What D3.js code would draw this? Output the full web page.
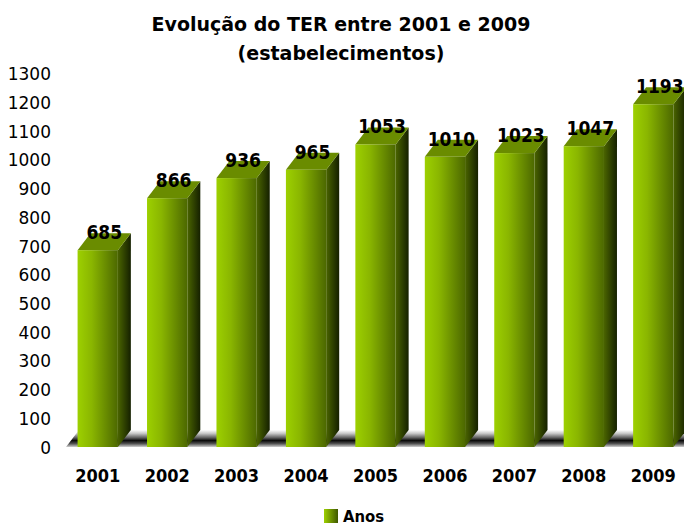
<!DOCTYPE html>
<html>
<head>
<meta charset="utf-8">
<script src="https://cdn.jsdelivr.net/npm/d3@7"></script>
<style>
  body { margin: 0; background: #fff; }
  svg { display: block; font-family: 'DejaVu Sans Condensed', 'DejaVu Sans', sans-serif; }
</style>
</head>
<body>
<div id="chart"></div>
<script>
const years = ['2001', '2002', '2003', '2004', '2005', '2006', '2007', '2008', '2009'];
const values = [685, 866, 936, 965, 1053, 1010, 1023, 1047, 1193];
const yTicks = [0, 100, 200, 300, 400, 500, 600, 700, 800, 900, 1000, 1100, 1200, 1300];
const titleLines = ['Evolução do TER entre 2001 e 2009', '(estabelecimentos)'];
const legendLabel = 'Anos';

const width = 684, height = 527;
const depthX = 13, depthY = 17;

const svg = d3.select('#chart')
    .append('svg')
    .attr('width', width)
    .attr('height', height);

const defs = svg.append('defs');

const front = defs.append('linearGradient').attr('id', 'front').attr('x1', 0).attr('x2', 1).attr('y1', 0).attr('y2', 0);
front.append('stop').attr('offset', '0%').attr('stop-color', '#9dd000');
front.append('stop').attr('offset', '35%').attr('stop-color', '#8ab600');
front.append('stop').attr('offset', '100%').attr('stop-color', '#4c6800');

const side = defs.append('linearGradient').attr('id', 'side').attr('x1', 0).attr('x2', 1).attr('y1', 0).attr('y2', 0);
side.append('stop').attr('offset', '0%').attr('stop-color', '#4a6400');
side.append('stop').attr('offset', '100%').attr('stop-color', '#152000');

const floorGrad = defs.append('linearGradient').attr('id', 'floor').attr('x1', 0).attr('x2', 0).attr('y1', 0).attr('y2', 1);
floorGrad.append('stop').attr('offset', '0%').attr('stop-color', '#ffffff');
floorGrad.append('stop').attr('offset', '20%').attr('stop-color', '#c8c8c8');
floorGrad.append('stop').attr('offset', '45%').attr('stop-color', '#606060');
floorGrad.append('stop').attr('offset', '62%').attr('stop-color', '#0a0a0a');
floorGrad.append('stop').attr('offset', '80%').attr('stop-color', '#505050');
floorGrad.append('stop').attr('offset', '100%').attr('stop-color', '#cfcfcf');

const legendGrad = defs.append('linearGradient').attr('id', 'legend').attr('x1', 0).attr('x2', 1).attr('y1', 0).attr('y2', 0);
legendGrad.append('stop').attr('offset', '0%').attr('stop-color', '#9dd000');
legendGrad.append('stop').attr('offset', '100%').attr('stop-color', '#3f5800');

const x = d3.scaleBand()
    .domain(years)
    .range([63, 688])
    .paddingInner(0.42)
    .paddingOuter(0.21);

const y = d3.scaleLinear()
    .domain([0, 1300])
    .range([447, 73.5]);

// title
svg.append('g')
    .selectAll('text')
    .data(titleLines)
    .join('text')
    .attr('x', 341)
    .attr('y', (d, i) => 31 + i * 29)
    .attr('text-anchor', 'middle')
    .attr('font-family', "'DejaVu Sans', sans-serif")
    .attr('font-size', '19px')
    .attr('font-weight', 'bold')
    .attr('fill', '#000')
    .text(d => d);

// y axis labels
const yAxis = svg.append('g')
    .attr('transform', 'translate(51,0)')
    .call(d3.axisLeft(y).tickValues(yTicks).tickFormat(d3.format('d')).tickSize(0).tickPadding(0));
yAxis.select('.domain').remove();
yAxis.selectAll('text')
    .attr('font-size', '17px')
    .attr('font-family', "'DejaVu Sans', sans-serif")
    .attr('fill', '#000')
    .attr('dy', '0.36em');

// floor slab
const x0 = x.range()[0] + 3, x1 = x.range()[1] + 10;
svg.append('path')
    .attr('d', `M${x0},${y(0)} L${x1},${y(0)} L${x1 + depthX},${y(0) - depthY} L${x0 + depthX},${y(0) - depthY} Z`)
    .attr('fill', 'url(#floor)');

// bars
const bars = svg.append('g')
    .selectAll('g')
    .data(years.map((yr, i) => ({ year: yr, value: values[i] })))
    .join('g');

bars.append('path')
    .attr('d', d => {
        const l = x(d.year) + x.bandwidth(), t = y(d.value), b = y(0);
        return `M${l},${t} L${l + depthX},${t - depthY} L${l + depthX},${b - depthY} L${l},${b} Z`;
    })
    .attr('fill', 'url(#side)');

bars.append('path')
    .attr('d', d => {
        const l = x(d.year), r = l + x.bandwidth(), t = y(d.value);
        return `M${l},${t} L${l + depthX},${t - depthY} L${r + depthX},${t - depthY} L${r},${t} Z`;
    })
    .attr('fill', '#6a8c00');

bars.append('rect')
    .attr('x', d => x(d.year))
    .attr('y', d => y(d.value))
    .attr('width', x.bandwidth())
    .attr('height', d => y(0) - y(d.value))
    .attr('fill', 'url(#front)');

bars.append('text')
    .attr('x', d => x(d.year) + x.bandwidth() / 2 + depthX / 2)
    .attr('y', d => y(d.value) - 11)
    .attr('text-anchor', 'middle')
    .attr('font-size', '19px')
    .attr('font-weight', 'bold')
    .attr('fill', '#000')
    .text(d => d.value);

// x labels
svg.append('g')
    .selectAll('text')
    .data(years)
    .join('text')
    .attr('x', d => x(d) + x.bandwidth() / 2)
    .attr('y', 482)
    .attr('text-anchor', 'middle')
    .attr('font-size', '18px')
    .attr('font-weight', 'bold')
    .attr('fill', '#000')
    .text(d => d);

// legend
const legend = svg.append('g').attr('transform', 'translate(324,509)');
legend.append('rect')
    .attr('width', 14)
    .attr('height', 14)
    .attr('fill', 'url(#legend)');
legend.append('text')
    .attr('x', 19)
    .attr('y', 13)
    .attr('font-size', '16.5px')
    .attr('font-weight', 'bold')
    .attr('fill', '#000')
    .text(legendLabel);
</script>
</body>
</html>
